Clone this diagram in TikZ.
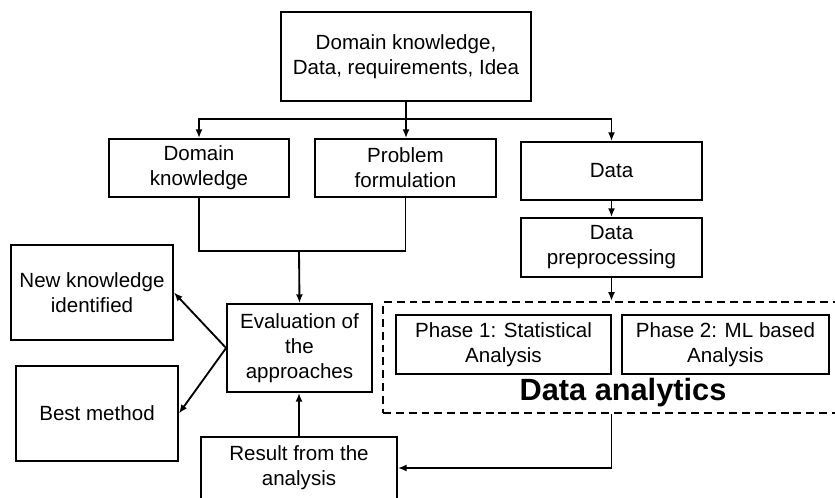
\documentclass[tikz,border=0pt]{standalone}
\usepackage{fontspec}
\setmainfont{Liberation Sans}
\usetikzlibrary{arrows.meta}

\begin{document}
\begin{tikzpicture}[x=0.02cm, y=-0.02cm, line width=1.05pt,
	box/.style={draw, rectangle, align=center, inner sep=2pt, font=\fontsize{11.7}{14.2}\selectfont},
	>={Latex[length=5pt,width=4pt]}]
	\useasboundingbox (0,0) rectangle (835,497);
	\node (idea) at (406,56.5) [box, minimum width=5cm, minimum height=1.78cm] {Domain knowledge,\\Data, requirements, Idea};
		\node (dk) at (199,168) [box, minimum width=3.6cm, minimum height=1.16cm] {Domain\\knowledge};
		\node (pf) at (405.5,168) [box, minimum width=3.62cm, minimum height=1.16cm] {Problem\\formulation};
		\node (data) at (611.5,171) [box, minimum width=3.62cm, minimum height=1.16cm] {Data};
		\node (prep) at (611.5,247.5) [box, minimum width=3.62cm, minimum height=1.18cm] {Data\\preprocessing};
			\node (eval) at (299.5,348) [box, minimum width=2.9cm, minimum height=1.76cm] {Evaluation of\\the\\approaches};
			\node (newk) at (92,292.5) [box, minimum width=3.24cm, minimum height=1.9cm] {New knowledge\\identified};
			\node (best) at (97,413.5) [box, minimum width=3.24cm, minimum height=1.9cm] {Best method};
			\node (res) at (299,468) [box, minimum width=3.92cm, minimum height=1.24cm] {Result from the\\analysis};
	\node (da) at (614,357.5) [draw, dash pattern=on 4.5pt off 2.8pt, line width=1.3pt, minimum width=9.24cm, minimum height=2.22cm] {};
		\node (ph1) at (503.5,344.5) [box, minimum width=4.3cm, minimum height=1.18cm] {Phase 1: Statistical\\Analysis};
		\node (ph2) at (725.5,344.5) [box, minimum width=4.14cm, minimum height=1.18cm] {Phase 2: ML based\\Analysis};
		\node (dalab) at (623,393) [font=\fontsize{17.5}{20}\selectfont\bfseries] {Data analytics};
	\coordinate (br) at (406,119);
	\coordinate (jn) at (299,251);
	\draw[-] (idea) to (br);
	\draw[->] (br) -| (dk.north);
	\draw[->] (br) to (br |- pf.north);
	\draw[->] (br) -| (data.north);
	\draw[->] (data) to (data.south |- prep.north);
	\draw[-] (dk.south) |- (jn) -| (pf.south);
	\draw[->] (jn) to (eval.north);
	\draw[->] (eval.west) to (newk.east);
	\draw[->] (eval.west) to (best.east);
	\draw[->] (res) to (res.north |- eval.south);
	\draw[->] (prep.south) to (prep.south |- da.north);
	\draw[->] (prep.south |- da.south) |- (res.east);
\end{tikzpicture}
\end{document}
